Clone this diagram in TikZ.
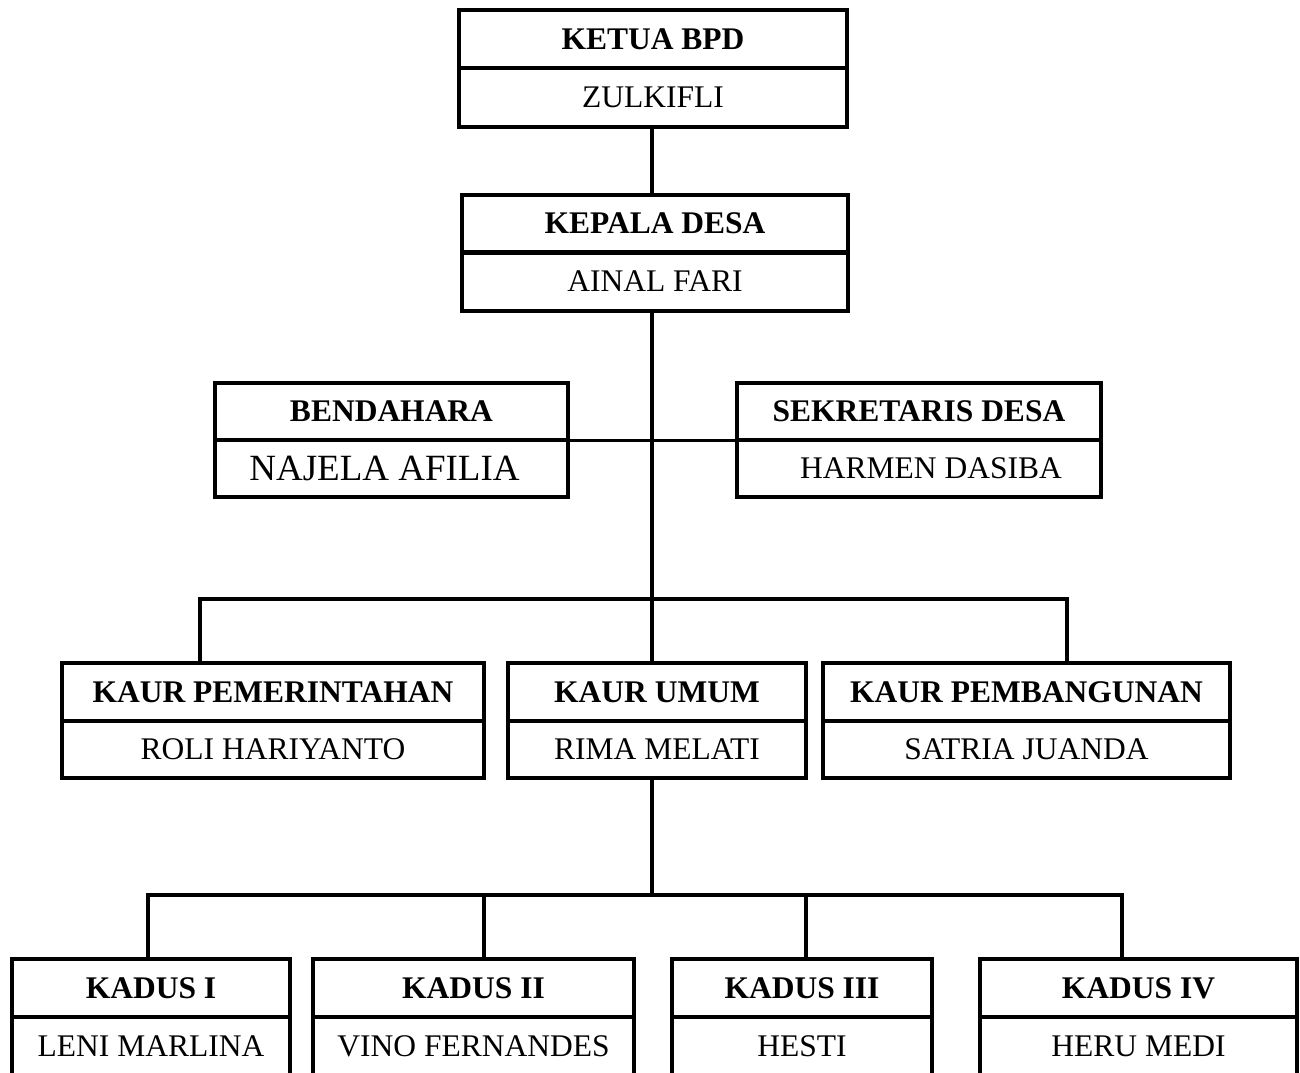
\documentclass[tikz,border=0pt]{standalone}
\usepackage{fontspec}
\setmainfont{Liberation Serif}
\begin{document}
\begin{tikzpicture}[x=1pt,y=-1pt,
  hdr/.style={draw, line width=4pt, inner sep=0pt, font=\fontsize{31.5}{36}\selectfont\bfseries},
  nm/.style={draw, line width=4pt, inner sep=0pt, font=\fontsize{31.5}{36}\selectfont},
  conn/.style={line width=3.5pt, line join=miter}]
\useasboundingbox[fill=white] (0,0) rectangle (1300,1072);
\clip (0,0) rectangle (1300,1072);

% top
\node[hdr, minimum width=388, minimum height=58] (ketuaH) at (653,39) {KETUA BPD};
\node[nm,  minimum width=388, minimum height=59] (ketuaN) at (653,97.5) {ZULKIFLI};
\node[hdr, minimum width=386, minimum height=57] (kepalaH) at (655,223.5) {KEPALA DESA};
\node[nm,  minimum width=386, minimum height=58] (kepalaN) at (655,281.5) {AINAL FARI};

% second row
\node[hdr, minimum width=353, minimum height=57] (bendH) at (391.5,411.5) {BENDAHARA};
\node[nm,  minimum width=353, minimum height=57, font=\fontsize{37}{42}\selectfont] (bendN) at (391.5,468.5) {NAJELA AFILIA\hspace*{14pt}};
\node[hdr, minimum width=364, minimum height=57] (sekH) at (919,411.5) {SEKRETARIS DESA};
\node[nm,  minimum width=364, minimum height=57] (sekN) at (919,468.5) {\hspace*{24pt}HARMEN DASIBA};

% kaur row
\node[hdr, minimum width=422, minimum height=58] (kpemH) at (273,692) {KAUR PEMERINTAHAN};
\node[nm,  minimum width=422, minimum height=57] (kpemN) at (273,749.5) {ROLI HARIYANTO};
\node[hdr, minimum width=298, minimum height=58] (kumumH) at (657,692) {KAUR UMUM};
\node[nm,  minimum width=298, minimum height=57] (kumumN) at (657,749.5) {RIMA MELATI};
\node[hdr, minimum width=407, minimum height=58] (kpembH) at (1026.5,692) {KAUR PEMBANGUNAN};
\node[nm,  minimum width=407, minimum height=57] (kpembN) at (1026.5,749.5) {SATRIA JUANDA};

% kadus row
\node[hdr, minimum width=278, minimum height=58] (k1H) at (151,988) {KADUS I};
\node[nm,  minimum width=278, minimum height=59] (k1N) at (151,1046.5) {LENI MARLINA};
\node[hdr, minimum width=321, minimum height=58] (k2H) at (473.5,988) {KADUS II};
\node[nm,  minimum width=321, minimum height=59] (k2N) at (473.5,1046.5) {VINO FERNANDES};
\node[hdr, minimum width=260, minimum height=58] (k3H) at (802,988) {KADUS III};
\node[nm,  minimum width=260, minimum height=59] (k3N) at (802,1046.5) {HESTI};
\node[hdr, minimum width=317, minimum height=58] (k4H) at (1138.5,988) {KADUS IV};
\node[nm,  minimum width=317, minimum height=59] (k4N) at (1138.5,1046.5) {HERU MEDI};

% connectors
\coordinate (spine) at (652,0);
\coordinate (bsL) at (462,440);
\coordinate (bsR) at (823,440);
\coordinate (bar1L) at (200,599);
\coordinate (bar1R) at (1067,599);
\coordinate (bar2L) at (148,895);
\coordinate (bar2a) at (484,895);
\coordinate (bar2m) at (652,895);
\coordinate (bar2b) at (806,895);
\coordinate (bar2R) at (1122,895);

\draw[conn] (spine |- ketuaN.south) -- (spine |- kepalaH.north);
\draw[conn] (spine |- kepalaN.south) -- (spine |- kumumH.north);
\draw[conn, line width=3pt] (bsL) -- (bsR);
\draw[conn] (bar1L |- kpemH.north) -- (bar1L) -- (bar1R) -- (bar1R |- kpembH.north);
\draw[conn] (spine |- kumumN.south) -- (bar2m);
\draw[conn] (bar2L |- k1H.north) -- (bar2L) -- (bar2R) -- (bar2R |- k4H.north);
\draw[conn] (bar2a) -- (bar2a |- k2H.north);
\draw[conn] (bar2b) -- (bar2b |- k3H.north);
\end{tikzpicture}
\end{document}
